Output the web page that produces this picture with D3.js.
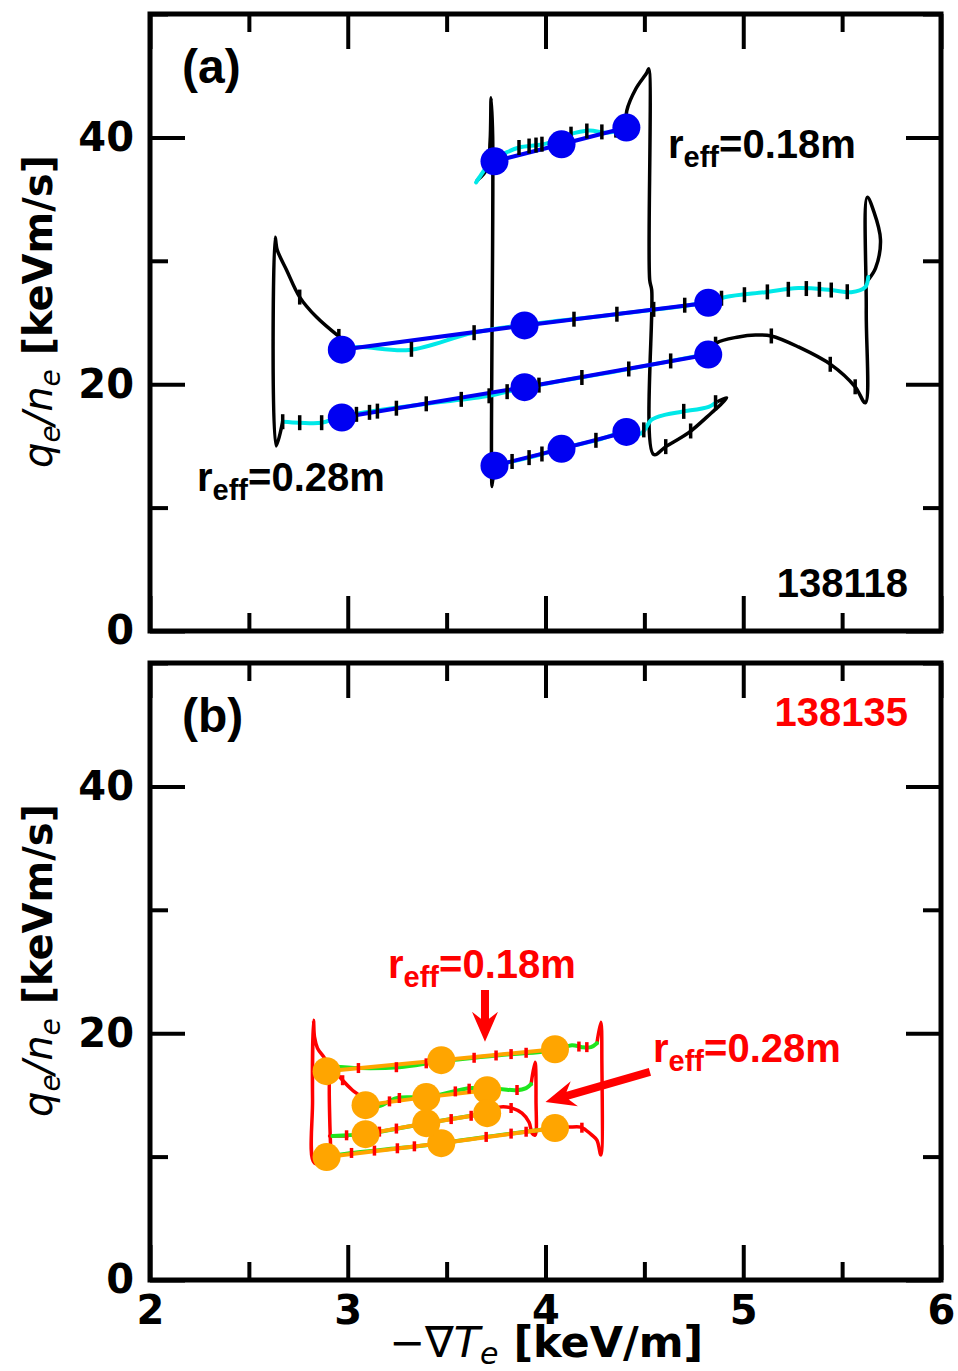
<!DOCTYPE html>
<html>
<head>
<meta charset="utf-8">
<script src="https://cdn.jsdelivr.net/npm/d3@7"></script>
<style>body{margin:0;background:#fff}</style>
</head>
<body>
<script>
// axis ticks
const xMajor = [2, 3, 4, 5, 6];
const xMinor = [2.5, 3.5, 4.5, 5.5];
const yMajor = [0, 20, 40];
const yMinor = [10, 30, 50];

// ---- (a) shot 138118: black = measured trace, cyan = smoothed, blue = 3-point fit
const aBlack028Left = [[2.671,16.96],[2.638,15.0],[2.633,31.9],[2.643,30.9],[2.691,29.24],[2.757,27.06],[2.842,25.44],[2.958,23.83]];
const aBlack028Right = [[4.820,22.46],[4.865,23.34],[4.976,23.83],[5.062,23.99],[5.142,23.91],[5.279,23.02],[5.445,21.57],[5.566,19.79],[5.617,18.50],[5.622,26.0],[5.627,35.14],[5.660,34.0],[5.694,31.7],[5.669,29.4],[5.634,28.5]];
const aBlack018Left = [[3.654,36.51],[3.705,37.48],[3.720,39.74],[3.725,43.21],[3.733,40.0],[3.730,11.71],[3.740,13.41]];
const aBlack018Right = [[4.860,18.50],[4.916,18.90],[4.885,18.34],[4.840,17.69],[4.724,16.07],[4.608,14.94],[4.547,14.30],[4.537,27.63],[4.527,28.43],[4.522,45.56],[4.512,45.23],[4.457,43.94],[4.411,42.16],[4.406,40.87]];

const aCyan028Lower = [[2.671,16.96],[2.757,16.88],[2.868,16.88],[2.968,17.37],[3.362,18.34],[3.715,19.06],[3.892,19.71],[4.371,21.08],[4.820,22.46]];
const aCyan028Upper = [[5.632,28.68],[5.617,27.87],[5.546,27.46],[5.445,27.63],[5.279,27.79],[5.112,27.46],[4.910,27.06],[4.825,26.66],[4.371,25.69],[3.892,24.80],[3.629,24.15],[3.311,22.78],[3.059,23.02],[2.968,22.86]];
const aCyan018Top = [[4.406,40.87],[4.320,40.39],[4.219,40.55],[4.119,40.23],[4.003,39.50],[3.866,39.18],[3.801,38.77],[3.730,38.13],[3.665,36.75],[3.649,36.35]];
const aCyan018Bottom = [[3.740,13.41],[3.917,14.05],[4.078,14.78],[4.270,15.51],[4.406,16.16],[4.482,15.99],[4.537,17.12],[4.608,17.53],[4.689,17.77],[4.825,18.17],[4.860,18.50]];

const aDotX028 = [2.97, 3.894, 4.823];
const aDotY028Upper = [22.8, 24.76, 26.6];
const aDotY028Lower = [17.3, 19.76, 22.4];
const aDotX018 = [3.742, 4.081, 4.409];
const aDotY018Top = [38.06, 39.44, 40.8];
const aDotY018Bottom = [13.4, 14.76, 16.13];

const aTick028Lower = [2.671,2.757,2.868,3.044,3.110,3.150,3.246,3.397,3.574,3.715,3.806,3.967,4.184,4.421,4.633];
const aTick028Right = [4.860,5.142,5.440,5.566];
const aTick028Upper = [3.322,3.639,4.144,4.361,4.547,4.704,4.890,5.006,5.122,5.228,5.319,5.385,5.445,5.526];
const aTick028Left = [2.757,2.955];
const aTick018Top = [3.765,3.866,3.917,3.952,3.982,4.129,4.209,4.285,4.356];
const aTick018Bottom = [3.831,3.917,3.982,4.255,4.497,4.699,4.860];
const aTick018Return = [4.734,4.608];

// ---- (b) shot 138135: red = measured trace, green = smoothed, orange = 3-point fit
const bRedOuterLeft = [[2.893,9.72],[2.832,9.47],[2.822,14.57],[2.827,21.05],[2.832,19.68],[2.847,18.79],[2.883,17.98],[2.908,17.33]];
const bRedOuterRight = [[4.260,19.19],[4.280,20.89],[4.285,17.81],[4.280,10.12],[4.260,11.34],[4.235,11.74],[4.204,12.15],[4.179,12.39],[4.119,12.39],[4.048,12.31]];
const bRedInnerLeft = [[2.913,10.93],[2.913,17.65],[2.933,17.00],[2.974,16.19],[3.024,15.38],[3.069,14.82],[3.090,14.33]];
const bRedInnerRight = [[3.927,15.87],[3.947,17.65],[3.952,14.57],[3.947,11.74],[3.932,11.90],[3.917,12.79],[3.881,13.52],[3.831,13.93],[3.765,14.01],[3.705,13.52]];
const bRedStub = [[2.908,11.66],[2.999,11.66]];

const bGreenOuterTop = [[2.923,17.33],[3.059,17.17],[3.261,17.25],[3.473,17.73],[3.765,18.22],[4.048,18.62],[4.134,19.03],[4.184,18.87],[4.230,18.87],[4.260,19.19]];
const bGreenOuterBottom = [[4.048,12.31],[3.765,11.74],[3.473,11.09],[3.261,10.69],[3.009,10.28],[2.893,9.96]];
const bGreenInnerTop = [[3.090,14.17],[3.160,14.09],[3.246,14.74],[3.397,14.82],[3.629,15.55],[3.705,15.38],[3.765,15.47],[3.851,15.38],[3.902,15.55],[3.927,15.87]];
const bGreenInnerBottom = [[3.705,13.52],[3.397,12.71],[3.090,11.82],[3.009,11.74],[2.923,11.66]];

const bDotXOuter = [2.893, 3.473, 4.048];
const bDotYOuterTop = [16.92, 17.81, 18.70];
const bDotYOuterBottom = [9.96, 11.09, 12.31];
const bDotXInner = [3.090, 3.397, 3.705];
const bDotYInnerTop = [14.17, 14.82, 15.38];
const bDotYInnerBottom = [11.82, 12.71, 13.52];

const bTickOuterTop = [3.054,3.246,3.397,3.639,3.750,3.826,3.902,4.169,4.209];
const bTickInnerTop = [3.211,3.261,3.544,3.614,3.856];
const bTickInnerBottom = [2.994,3.160,3.246,3.523,3.624];
const bTickOuterBottom = [3.019,3.135,3.251,3.337,3.700,3.826,3.902];
const bTickInnerRight = [3.826];
const bTickOuterRight = [4.184];
const bTickInnerLeft = [2.974];

const W = 958, H = 1371;
const svg = d3.select("body").append("svg").attr("width", W).attr("height", H);

const x = d3.scaleLinear().domain([2, 6]).range([150, 941]);

const interpY = (pts, xv) => {
  for (let i = 0; i < pts.length - 1; i++) {
    const [x0, y0] = pts[i], [x1, y1] = pts[i + 1];
    if (x0 !== x1 && (x0 - xv) * (x1 - xv) <= 0) return y0 + (y1 - y0) * (xv - x0) / (x1 - x0);
  }
  return pts[pts.length - 1][1];
};

function axis(g, make, scale, tx, ty, values, len, labels) {
  const ax = make(scale).tickValues(values).tickSize(-len).tickPadding(16).tickFormat(labels ? d3.format("d") : "");
  const s = g.append("g").attr("transform", `translate(${tx},${ty})`).call(ax);
  s.select(".domain").remove();
  s.selectAll(".tick line").attr("stroke", "#000").attr("stroke-width", 4);
  s.selectAll("text")
    .attr("fill", "#000")
    .attr("font-size", 40)
    .attr("font-weight", "bold")
    .attr("font-family", "'DejaVu Sans', sans-serif");
}

function panel(p) {
  const y = d3.scaleLinear().domain([0, 50]).range([p.bottom, p.top]);
  const g = svg.append("g");
  const smooth = d3.line().x(d => x(d[0])).y(d => y(d[1])).curve(d3.curveCatmullRom.alpha(0.5));
  const straight = d3.line().x(d => x(d[0])).y(d => y(d[1]));

  p.traces.forEach(([pts, color, w]) => {
    g.append("path").datum(pts).attr("d", smooth)
      .attr("fill", "none").attr("stroke", color).attr("stroke-width", w)
      .attr("stroke-linejoin", "round").attr("stroke-linecap", "round");
  });

  p.fits.forEach(([xs, ys]) => {
    g.append("path").datum(xs.map((v, i) => [v, ys[i]])).attr("d", straight)
      .attr("fill", "none").attr("stroke", p.fitColor).attr("stroke-width", 4);
  });

  p.marks.forEach(([pts, xs]) => {
    g.selectAll(null).data(xs).join("line")
      .attr("x1", d => x(d)).attr("x2", d => x(d))
      .attr("y1", d => y(interpY(pts, d)) - p.markLen / 2)
      .attr("y2", d => y(interpY(pts, d)) + p.markLen / 2)
      .attr("stroke", p.markColor).attr("stroke-width", 3.5);
  });

  p.fits.forEach(([xs, ys]) => {
    g.selectAll(null).data(xs.map((v, i) => [v, ys[i]])).join("circle")
      .attr("cx", d => x(d[0])).attr("cy", d => y(d[1])).attr("r", 14)
      .attr("fill", p.fitColor);
  });

  // frame and ticks
  axis(g, d3.axisLeft, y, 150, 0, yMinor, 18, false);
  axis(g, d3.axisLeft, y, 150, 0, yMajor, 35, true);
  axis(g, d3.axisRight, y, 941, 0, yMinor, 18, false);
  axis(g, d3.axisRight, y, 941, 0, yMajor, 35, false);
  axis(g, d3.axisTop, x, 0, p.top, xMinor, 18, false);
  axis(g, d3.axisTop, x, 0, p.top, xMajor, 35, false);
  axis(g, d3.axisBottom, x, 0, p.bottom, xMinor, 18, false);
  axis(g, d3.axisBottom, x, 0, p.bottom, xMajor, 35, p.xLabels);
  g.append("rect").attr("x", 150).attr("y", p.top)
    .attr("width", 791).attr("height", p.bottom - p.top)
    .attr("fill", "none").attr("stroke", "#000").attr("stroke-width", 5);

  // panel tag and shot number
  g.append("text").attr("x", 182).attr("y", p.top + 69)
    .attr("font-family", "'Liberation Sans', Arial, sans-serif").attr("font-weight", "bold")
    .attr("font-size", 48).text(p.tag);
  g.append("text").attr("x", 908).attr("y", p.shotY)
    .attr("text-anchor", "end").attr("fill", p.shotColor)
    .attr("font-family", "'Liberation Sans', Arial, sans-serif").attr("font-weight", "bold")
    .attr("font-size", 40).text(p.shot);

  // y title
  const t = g.append("text")
    .attr("transform", `translate(52,${(p.top + p.bottom) / 2 - 11}) rotate(-90)`)
    .attr("text-anchor", "middle").attr("font-size", 40)
    .attr("font-family", "'DejaVu Sans', sans-serif");
  t.append("tspan").attr("font-style", "italic").text("q");
  t.append("tspan").attr("font-style", "italic").attr("font-size", 28).attr("dy", 8).text("e");
  t.append("tspan").attr("font-style", "italic").attr("dy", -8).text("/n");
  t.append("tspan").attr("font-style", "italic").attr("font-size", 28).attr("dy", 8).text("e");
  t.append("tspan").attr("font-weight", "bold").attr("dy", -8).text(" [keVm/s]");

  // radius labels
  p.labels.forEach(([lx, ly, txt]) => {
    const l = g.append("text").attr("x", lx).attr("y", ly).attr("fill", p.labelColor)
      .attr("font-family", "'Liberation Sans', Arial, sans-serif").attr("font-weight", "bold")
      .attr("font-size", 40);
    l.append("tspan").text("r");
    l.append("tspan").attr("font-size", 29).attr("dy", 9).text("eff");
    l.append("tspan").attr("dy", -9).text("=" + txt);
  });

  // arrows
  p.arrows.forEach(([x0, y0, x1, y1]) => {
    const X0 = x(x0), Y0 = y(y0), X1 = x(x1), Y1 = y(y1);
    const L = Math.hypot(X1 - X0, Y1 - Y0), ux = (X1 - X0) / L, uy = (Y1 - Y0) / L;
    const nx = -uy, ny = ux, sw = 4, hl = 30, hw = 13, back = 7;
    const P = (a, b) => [X0 + ux * a + nx * b, Y0 + uy * a + ny * b];
    const pts = [P(0, -sw), P(L - hl + back, -sw), P(L - hl, -hw), P(L, 0), P(L - hl, hw), P(L - hl + back, sw), P(0, sw)];
    g.append("path").attr("d", "M" + pts.map(q => q.join(",")).join("L") + "Z").attr("fill", "#ff0000");
  });
}

panel({
  top: 14, bottom: 631, tag: "(a)", shot: "138118", shotColor: "#000", shotY: 597,
  xLabels: false, fitColor: "#0000f2", markColor: "#000", markLen: 15, labelColor: "#000",
  traces: [
    [aBlack028Left, "#000", 3.5], [aBlack028Right, "#000", 3.5],
    [aBlack018Left, "#000", 3.5], [aBlack018Right, "#000", 3.5],
    [aCyan028Lower, "#00e8e8", 4], [aCyan028Upper, "#00e8e8", 4],
    [aCyan018Top, "#00e8e8", 4], [aCyan018Bottom, "#00e8e8", 4]
  ],
  fits: [[aDotX028, aDotY028Upper], [aDotX028, aDotY028Lower], [aDotX018, aDotY018Top], [aDotX018, aDotY018Bottom]],
  marks: [
    [aCyan028Lower, aTick028Lower], [aBlack028Right, aTick028Right], [aCyan028Upper, aTick028Upper],
    [aBlack028Left, aTick028Left], [aCyan018Top, aTick018Top], [aCyan018Bottom, aTick018Bottom],
    [aBlack018Right, aTick018Return]
  ],
  labels: [[668, 158, "0.18m"], [197, 491, "0.28m"]],
  arrows: []
});

panel({
  top: 663, bottom: 1280, tag: "(b)", shot: "138135", shotColor: "#ff0000", shotY: 726,
  xLabels: true, fitColor: "#ffa500", markColor: "#ff0000", markLen: 10, labelColor: "#ff0000",
  traces: [
    [bRedOuterLeft, "#ff0000", 3.5], [bRedOuterRight, "#ff0000", 3.5],
    [bRedInnerLeft, "#ff0000", 3.5], [bRedInnerRight, "#ff0000", 3.5], [bRedStub, "#ff0000", 3.5],
    [bGreenOuterTop, "#1ee61e", 4], [bGreenOuterBottom, "#1ee61e", 4],
    [bGreenInnerTop, "#1ee61e", 4], [bGreenInnerBottom, "#1ee61e", 4]
  ],
  fits: [[bDotXOuter, bDotYOuterTop], [bDotXOuter, bDotYOuterBottom], [bDotXInner, bDotYInnerTop], [bDotXInner, bDotYInnerBottom]],
  marks: [
    [bGreenOuterTop, bTickOuterTop], [bGreenInnerTop, bTickInnerTop], [bGreenInnerBottom, bTickInnerBottom],
    [bGreenOuterBottom, bTickOuterBottom], [bRedInnerRight, bTickInnerRight], [bRedOuterRight, bTickOuterRight],
    [bRedInnerLeft, bTickInnerLeft]
  ],
  labels: [[388, 978, "0.18m"], [653, 1062, "0.28m"]],
  arrows: [[3.694, 23.5, 3.694, 19.3], [4.528, 16.86, 4.0, 14.42]]
});

// x title
const xt = svg.append("text").attr("x", 546).attr("y", 1357)
  .attr("text-anchor", "middle").attr("font-size", 43)
  .attr("font-family", "'DejaVu Sans', sans-serif");
xt.append("tspan").text("\u2212\u2207");
xt.append("tspan").attr("font-style", "italic").text("T");
xt.append("tspan").attr("font-style", "italic").attr("font-size", 30).attr("dy", 7).text("e");
xt.append("tspan").attr("font-weight", "bold").attr("dy", -7).text(" [keV/m]");
</script>
</body>
</html>
